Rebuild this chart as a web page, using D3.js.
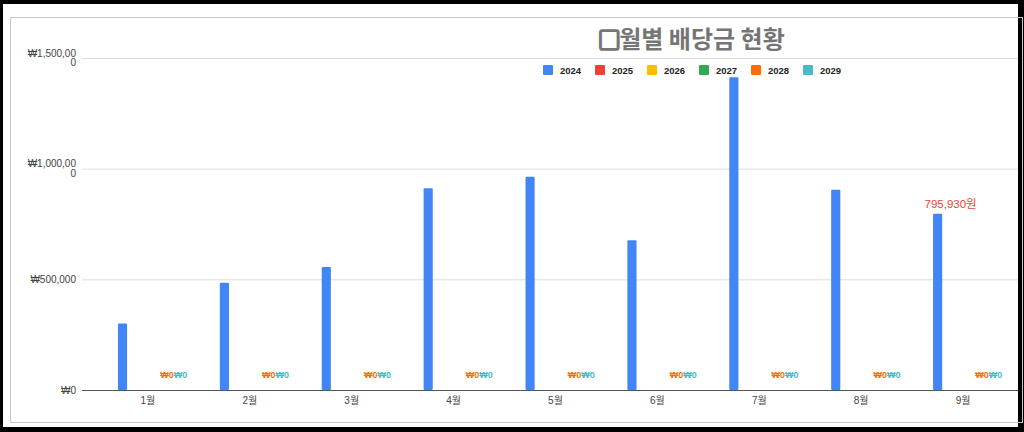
<!DOCTYPE html>
<html>
<head>
<meta charset="utf-8">
<script src="https://cdn.jsdelivr.net/npm/d3@7"></script>
<style>
  html, body { margin: 0; padding: 0; background: #000; }
  svg { display: block; }
  text { font-family: "Liberation Sans", Arial, "Noto Sans CJK KR", sans-serif; }
</style>
</head>
<body>
<script>
// data
var months = ["1월","2월","3월","4월","5월","6월","7월","8월","9월"];
var years = ["2024","2025","2026","2027","2028","2029"];
var colors = ["#4285f4","#ea4335","#fbbc04","#34a853","#ff6d01","#46bdc6"];
var v2024 = [300000, 485000, 556000, 912000, 963000, 677000, 1413000, 905000, 795930];
var v2025 = [0,0,0,0,0,0,0,0,0];
var v2026 = [0,0,0,0,0,0,0,0,0];
var v2027 = [0,0,0,0,0,0,0,0,0];
var v2028 = [0,0,0,0,0,0,0,0,0];
var v2029 = [0,0,0,0,0,0,0,0,0];
var yTicks = [0, 500000, 1000000, 1500000];
var yTickLabels = ["₩0", "₩500,000", "₩1,000,000", "₩1,500,000"];
var labelYears = ["2028","2029"]; // zero labels that show through
var noteMonth = "9월", noteText = "795,930원";

var series = [v2024, v2025, v2026, v2027, v2028, v2029];

var W = 1024, H = 432;
var svg = d3.select("body").append("svg").attr("width", W).attr("height", H);

// frame
svg.append("rect").attr("x", 3).attr("y", 4).attr("width", 1015).attr("height", 423).attr("fill", "#fff");
svg.append("rect").attr("x", 10.5).attr("y", 17.5).attr("width", 1012).attr("height", 405)
   .attr("fill", "none").attr("stroke", "#c8c8c8");

var x = d3.scaleBand().domain(months).range([97, 1014]);
var groupW = 60;
var xs = d3.scaleBand().domain(years).range([0, groupW]).paddingInner(0.1);
var y = d3.scaleLinear().domain([0, 1500000]).range([390, 58]);

// grid
svg.selectAll(".grid").data(yTicks.slice(1)).enter().append("line")
   .attr("x1", 82).attr("x2", 1018)
   .attr("y1", function(d){ return y(d) + 0.5; }).attr("y2", function(d){ return y(d) + 0.5; })
   .attr("stroke", "#dcdcdc");

// y labels (wrap long ones like the original)
var yl = svg.selectAll(".ylab").data(yTicks).enter().append("text")
   .attr("text-anchor", "end").attr("font-size", 10).attr("fill", "#444");
yl.each(function(d, i){
  var t = d3.select(this), s = yTickLabels[i];
  if (s.length > 9) {
    t.append("tspan").attr("x", 76).attr("y", y(d) - 1.5).text(s.slice(0, 9));
    t.append("tspan").attr("x", 76).attr("y", y(d) + 8).text(s.slice(9));
  } else {
    t.append("tspan").attr("x", 76).attr("y", y(d) + 3.5).text(s);
  }
});

// bars
var off = (x.bandwidth() - groupW) / 2;
years.forEach(function(yr, si){
  svg.append("g").selectAll("rect").data(series[si]).enter().append("rect")
    .attr("x", function(d, i){ return x(months[i]) + off + xs(yr); })
    .attr("y", function(d){ return y(d); })
    .attr("width", xs.bandwidth())
    .attr("height", function(d){ return y(0) - y(d); })
    .attr("rx", 1)
    .attr("fill", colors[si]);
});

// zero labels: one text per month, the two series labels side by side
var fmt = d3.format(",");
var first = years.indexOf(labelYears[0]);
var zl = svg.append("g").selectAll("text").data(months).enter().append("text")
  .attr("x", function(d){ return x(d) + off + xs(labelYears[0]) + xs.bandwidth() / 2 - 3; })
  .attr("y", function(d, i){ return y(series[first][i]) - 12.5; })
  .attr("font-size", 9).attr("font-weight", "bold");
labelYears.forEach(function(yr){
  var si = years.indexOf(yr);
  zl.append("tspan")
    .attr("fill", colors[si])
    .text(function(d, i){ return "₩" + fmt(series[si][i]); });
});

// axis baseline + month labels
svg.append("line").attr("x1", 82).attr("x2", 1018).attr("y1", y(0) + 0.5).attr("y2", y(0) + 0.5)
   .attr("stroke", "#555");
svg.selectAll(".xlab").data(months).enter().append("text")
   .attr("x", function(d){ return x(d) + x.bandwidth() / 2; })
   .attr("y", 404).attr("text-anchor", "middle")
   .attr("font-size", 10).attr("fill", "#444")
   .text(function(d){ return d; });

// annotation on 9월
var ni = months.indexOf(noteMonth);
svg.append("text")
   .attr("x", x(noteMonth) + off + xs("2024") + xs.bandwidth() / 2 + 13)
   .attr("y", y(v2024[ni]) - 6)
   .attr("text-anchor", "middle").attr("font-size", 11.5).attr("fill", "#ea4335")
   .text(noteText);

// title
var tt = svg.append("text").attr("x", 692).attr("y", 48).attr("text-anchor", "middle")
   .attr("font-size", 24).attr("font-weight", "bold").attr("fill", "#757575")
   .style("font-family", "'Noto Sans CJK KR', sans-serif");
tt.append("tspan").attr("stroke", "#757575").attr("stroke-width", 2.2).attr("font-size", 20).text("▢");
tt.append("tspan").text("월별 배당금 현황");

// legend
var lg = svg.selectAll(".lg").data(years).enter().append("g")
   .attr("transform", function(d, i){ return "translate(" + (543 + i * 52) + ",65)"; });
lg.append("rect").attr("width", 10).attr("height", 10).attr("rx", 1)
   .attr("fill", function(d, i){ return colors[i]; });
lg.append("text").attr("x", 17).attr("y", 8.5).attr("font-size", 9.5).attr("font-weight", "bold")
   .attr("fill", "#222").text(function(d){ return d; });
</script>
</body>
</html>
